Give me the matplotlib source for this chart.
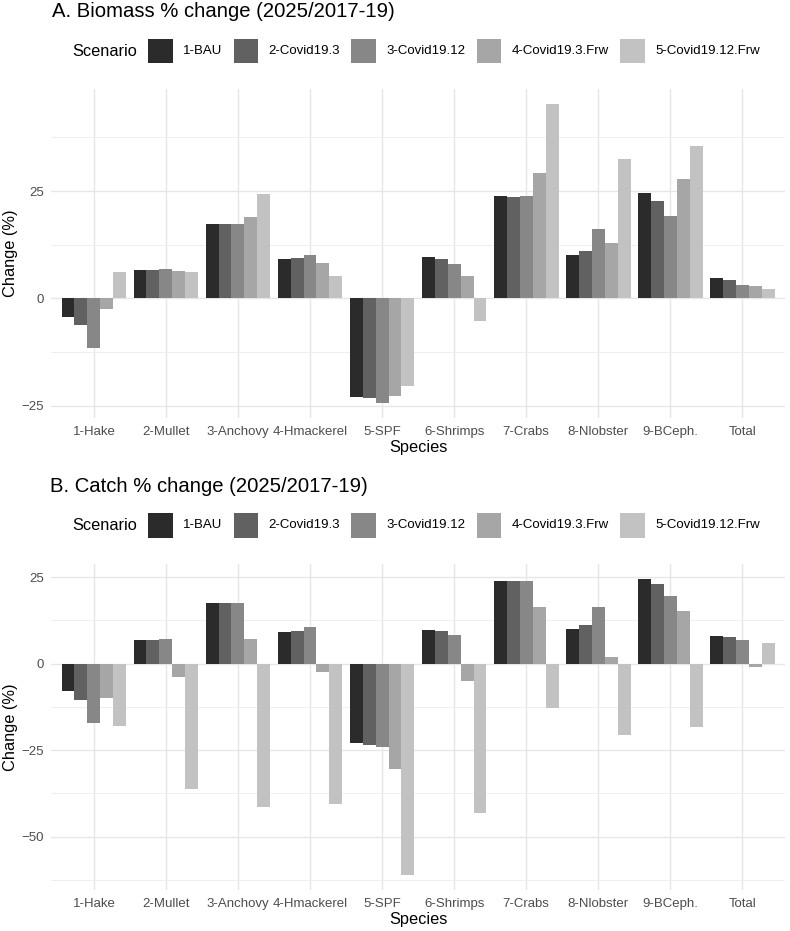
import numpy as np
import matplotlib
matplotlib.use("Agg")
import matplotlib.pyplot as plt
from matplotlib.patches import Rectangle

plt.rcParams['font.family'] = ['Liberation Sans', 'DejaVu Sans']

# Data
species = ['1-Hake', '2-Mullet', '3-Anchovy', '4-Hmackerel', '5-SPF',
           '6-Shrimps', '7-Crabs', '8-Nlobster', '9-BCeph.', 'Total']
scenarios = ['1-BAU', '2-Covid19.3', '3-Covid19.12', '4-Covid19.3.Frw', '5-Covid19.12.Frw']
colors = ['#2b2b2b', '#616161', '#878787', '#a6a6a6', '#c2c2c2']

# biomass % change, one list per scenario
bio_bau = [-4.4, 6.5, 17.3, 9.1, -23.1, 9.7, 23.8, 10.0, 24.5, 4.7]
bio_c3 = [-6.3, 6.5, 17.3, 9.3, -23.3, 9.1, 23.6, 11.1, 22.8, 4.3]
bio_c12 = [-11.5, 6.9, 17.3, 10.1, -24.4, 8.0, 23.8, 16.2, 19.2, 3.2]
bio_c3f = [-2.6, 6.3, 18.9, 8.3, -22.8, 5.2, 29.3, 13.0, 27.9, 2.9]
bio_c12f = [6.2, 6.2, 24.4, 5.3, -20.4, -5.3, 45.3, 32.4, 35.6, 2.1]

# catch % change
cat_bau = [-8.0, 6.7, 17.5, 9.2, -23.0, 9.7, 24.0, 10.1, 24.5, 8.1]
cat_c3 = [-10.4, 6.7, 17.5, 9.4, -23.4, 9.3, 23.8, 11.3, 23.0, 7.7]
cat_c12 = [-17.2, 7.0, 17.6, 10.5, -24.1, 8.2, 23.9, 16.4, 19.4, 6.7]
cat_c3f = [-10.0, -4.0, 7.1, -2.4, -30.5, -5.0, 16.5, 1.8, 15.2, -1.1]
cat_c12f = [-18.0, -36.3, -41.4, -40.4, -61.1, -43.0, -12.7, -20.5, -18.4, 5.9]

biomass = [bio_bau, bio_c3, bio_c12, bio_c3f, bio_c12f]
catch = [cat_bau, cat_c3, cat_c12, cat_c3f, cat_c12f]

W, H = 790, 931
fig = plt.figure(figsize=(W / 100, H / 100), dpi=100)
fig.patch.set_facecolor('white')

tick_fs = 9.5
lab_fs = 11.8
title_fs = 14.6


def draw_panel(rect, series, major, minor):
    ax = fig.add_axes(rect)
    x = np.arange(len(species))
    bw = 0.18
    for i, vals in enumerate(series):
        ax.bar(x + (i - 2) * bw, vals, width=bw, color=colors[i], linewidth=0, zorder=2)
    allv = np.concatenate([np.array(s) for s in series])
    lo, hi = min(allv.min(), 0), max(allv.max(), 0)
    pad = (hi - lo) * 0.05
    ax.set_ylim(lo - pad, hi + pad)
    ax.set_xlim(-0.6, len(species) - 0.4)
    ax.set_yticks(major)
    ax.set_yticks(minor, minor=True)
    ax.set_xticks(x)
    ax.set_xticklabels(species)
    ax.grid(True, which='major', color='#e6e6e6', linewidth=1.0, zorder=0)
    ax.grid(True, which='minor', axis='y', color='#efefef', linewidth=0.7, zorder=0)
    ax.set_axisbelow(True)
    for s in ax.spines.values():
        s.set_visible(False)
    ax.tick_params(which='both', length=0)
    ax.tick_params(axis='y', labelsize=tick_fs, labelcolor='#4d4d4d', pad=5)
    ax.tick_params(axis='x', labelsize=tick_fs, labelcolor='#4d4d4d', pad=6)
    ax.set_xlabel('Species', fontsize=lab_fs, labelpad=1.5)
    return ax


def draw_legend(y_px):
    r = fig.canvas.get_renderer()
    yc = 1 - y_px / H
    x = 72.7
    t = fig.text(x / W, yc, 'Scenario', fontsize=lab_fs, va='center', ha='left')
    x += t.get_window_extent(r).width + 10.5
    key = 24.5
    for name, c in zip(scenarios, colors):
        fig.patches.append(Rectangle((x / W, yc - key / 2 / H), key / W, key / H,
                                     transform=fig.transFigure, figure=fig,
                                     facecolor=c, edgecolor='none'))
        x += key + 10.5
        t = fig.text(x / W, yc, name, fontsize=tick_fs, va='center', ha='left')
        x += t.get_window_extent(r).width + 11.3


left = 50.7 / W
width = (785.4 - 50.7) / W

axA = draw_panel([left, 1 - 418 / H, width, (418 - 89) / H], biomass,
                 [-25, 0, 25], [-12.5, 12.5, 37.5])
axB = draw_panel([left, 1 - 890 / H, width, (890 - 564) / H], catch,
                 [-50, -25, 0, 25], [-62.5, -37.5, -12.5, 12.5])

fig.text(52 / W, 1 - 16.7 / H, 'A. Biomass % change (2025/2017-19)',
         fontsize=title_fs, va='baseline', ha='left')
fig.text(50 / W, 1 - 492 / H, 'B. Catch % change (2025/2017-19)',
         fontsize=title_fs, va='baseline', ha='left')

fig.text(11 / W, 1 - 253.5 / H, 'Change (%)', fontsize=lab_fs, rotation=90,
         va='center', ha='center')
fig.text(11 / W, 1 - 727 / H, 'Change (%)', fontsize=lab_fs, rotation=90,
         va='center', ha='center')

draw_legend(51)
draw_legend(525.3)

fig.savefig('out.png', dpi=100, facecolor='white')
